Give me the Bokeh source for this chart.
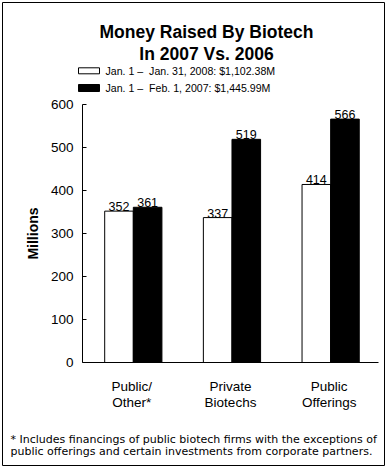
from bokeh.plotting import figure
from bokeh.models import (ColumnDataSource, LabelSet, Range1d, FixedTicker, LinearAxis)
from bokeh.transform import dodge
from bokeh.core.properties import value
from bokeh.embed import file_html
from bokeh.resources import INLINE

categories = ["Public/\nOther*", "Private\nBiotechs", "Public\nOfferings"]
values_2008 = [352, 337, 414]
values_2007 = [361, 519, 566]
series_labels = ["Jan. 1 \u2013\u00a0 Jan. 31, 2008: $1,102.38M",
                 "Jan. 1 \u2013\u00a0 Feb. 1, 2007: $1,445.99M"]
series_colors = ["white", "black"]
title_lines = ["Money Raised By Biotech", "In 2007 Vs. 2006"]
footnote_lines = ["* Includes financings of public biotech firms with the exceptions of",
                  "public offerings and certain investments from corporate partners."]
y_ticks = [0, 100, 200, 300, 400, 500, 600]
y_min, y_max = 0, 600

FONT = "Liberation Sans"

# ---- canvas layout (pixels)
W, H = 383, 464
PLOT_L, PLOT_R = 80, 376      # plot area left/right (px from canvas left)
PLOT_T, PLOT_B = 102, 360     # plot area top/bottom (px from canvas top)
n = len(categories)
ux = (PLOT_R - PLOT_L) / n
uy = (y_max - y_min) / (PLOT_B - PLOT_T)
x_start = -0.5 - PLOT_L / ux
x_end = x_start + W / ux
y_start = y_min - (H - PLOT_B) * uy
y_end = y_max + PLOT_T * uy

p = figure(width=W, height=H, x_range=Range1d(x_start, x_end), y_range=Range1d(y_start, y_end),
           x_axis_location=None, y_axis_location=None, output_backend="svg",
           toolbar_location=None, title_location=None, margin=(2, 0, 0, 2),
           min_border=0, min_border_left=0, min_border_right=0,
           min_border_top=0, min_border_bottom=0)
p.background_fill_color = "white"
p.border_fill_color = "white"
p.outline_line_color = "black"
p.outline_line_width = 1
p.xgrid.visible = False
p.ygrid.visible = False
p.extra_x_ranges = {"px": Range1d(0, W)}
p.extra_y_ranges = {"px": Range1d(H, 0)}

# ---- bars
src = ColumnDataSource(data=dict(
    idx=list(range(n)), v08=values_2008, v07=values_2007,
    l08=[str(v) for v in values_2008], l07=[str(v) for v in values_2007]))

w = 0.29
p.vbar(x=dodge("idx", -0.13), top="v08", width=w, source=src,
       fill_color=series_colors[0], line_color="black", line_width=1)
p.vbar(x=dodge("idx", 0.16), top="v07", width=w, source=src,
       fill_color=series_colors[1], line_color="black", line_width=1)

for col, off in (("08", -0.13), ("07", 0.16)):
    p.add_layout(LabelSet(x=dodge("idx", off), y="v" + col, text="l" + col,
                          source=src, text_align="center", text_baseline="bottom", y_offset=0,
                          text_font=value(FONT), text_font_size="12.5px", text_color="black"))

# ---- axes
yax = LinearAxis(fixed_location=-0.5, bounds=(y_min, y_max), ticker=FixedTicker(ticks=y_ticks))
yax.major_tick_in = 4
yax.major_tick_out = 0
yax.minor_tick_line_color = None
yax.major_label_text_font = FONT
yax.major_label_text_font_size = "13.5px"
yax.major_label_text_color = "black"
yax.major_label_standoff = 9
yax.axis_label = "Millions"
yax.axis_label_text_font = FONT
yax.axis_label_text_font_size = "14px"
yax.axis_label_text_font_style = "bold"
yax.axis_label_text_color = "black"
yax.axis_label_standoff = 7
yax.axis_line_color = "black"
p.add_layout(yax, "left")

xax = LinearAxis(fixed_location=y_min, bounds=(-0.5, n - 0.5),
                 ticker=FixedTicker(ticks=list(range(n))))
xax.major_label_overrides = {i: c for i, c in enumerate(categories)}
xax.major_tick_line_color = None
xax.minor_tick_line_color = None
xax.major_label_text_font = FONT
xax.major_label_text_font_size = "13.5px"
xax.major_label_text_color = "black"
xax.major_label_text_line_height = 1.1
xax.major_label_standoff = 10
xax.axis_line_color = "black"
p.add_layout(xax, "below")

# ---- title
p.text(x=[204, 204], y=[29.5, 51.5], text=title_lines, text_align="center",
       text_baseline="alphabetic", text_font=value(FONT), text_font_size="17.5px",
       text_font_style="bold", text_color="black", x_range_name="px", y_range_name="px")

# ---- legend
p.rect(x=[86.5, 86.5], y=[68.3, 85.5], width=21, height=[6, 7], fill_color=series_colors,
       line_color="black", line_width=1, x_range_name="px", y_range_name="px")
p.text(x=[103, 103], y=[68.3, 85.3], text=series_labels, text_align="left",
       text_baseline="middle", text_font=value(FONT), text_font_size="10.6px",
       text_color="black", x_range_name="px", y_range_name="px")

# ---- footnote
p.text(x=[8, 8], y=[436.5, 448.5], text=footnote_lines, text_align="left",
       text_baseline="alphabetic", text_font=value("DejaVu Sans"), text_font_size="11px",
       text_color="black", x_range_name="px", y_range_name="px")

open("out.html", "w").write(file_html(p, INLINE))
